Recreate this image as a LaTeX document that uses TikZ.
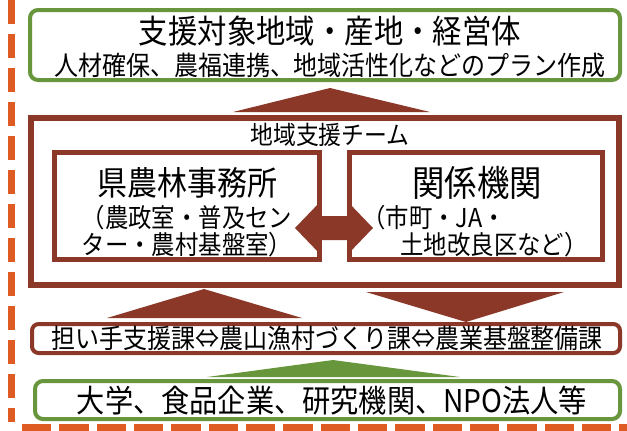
\documentclass[tikz,border=0pt]{standalone}
\usepackage{fontspec}
\newfontfamily\jpfont[FakeStretch=0.9]{Noto Sans CJK JP}
\usetikzlibrary{calc}
\definecolor{teamred}{RGB}{139,56,40}
\definecolor{areagreen}{RGB}{104,150,60}
\definecolor{lineorange}{RGB}{222,92,36}
\newcommand\px{0.75pt}
\pgfkeys{tikz/greenbox/.style={draw=areagreen,line width=3pt,rounded corners=6pt,fill=white}}
\pgfkeys{tikz/redbox/.style={draw=teamred,line width=4.5pt}}
\pgfkeys{tikz/innerbox/.style={draw=teamred,line width=3.5pt}}
\pgfkeys{tikz/sectionbox/.style={draw=teamred,line width=3pt,rounded corners=5pt}}
\pgfkeys{tikz/jptext/.style={font=\jpfont,inner sep=0pt,text=black}}
\pgfkeys{tikz/orangedash/.style={draw=lineorange,line width=5.25pt}}
\newcommand*\mybigtriangle[4][teamred]{
    \fill[#1] (#2) -- (#3) -- (#4) -- cycle;
}
\newcommand*\myfs[1]{\fontsize{#1}{#1}\selectfont}

\begin{document}
\begin{tikzpicture}[x=0.75pt,y=-0.75pt]
    \useasboundingbox (0,0) rectangle (627,430);
    \draw[orangedash,dash pattern=on 18pt off 7.5pt] (11.5,0) -- (11.5,422);
    \draw[orangedash,dash pattern=on 22pt off 6pt] (22,427) -- (627,427);

    \node[greenbox,minimum width=590*\px,minimum height=70*\px] (area) at (325,45) {};
    \node[jptext] (areaname) at (330,31) {\myfs{24.5pt}支援対象地域・産地・経営体};
    \node[jptext] (plan) at (330,65) {\myfs{20pt}人材確保、農福連携、地域活性化などのプラン作成};

    \mybigtriangle{233,112}{330,88}{430,112}

    \node[redbox,minimum width=588*\px,minimum height=167*\px] (team) at (325,201.5) {};
    \node[jptext] (teamname) at (330,135) {\myfs{19pt}地域支援チーム};

    \fill[teamred] (295,228) -- (320,202) -- (320,216) -- (348,216) -- (348,202)
        -- (373,228) -- (348,254) -- (348,240) -- (320,240) -- (320,254) -- cycle;

    \node[innerbox,minimum width=265*\px,minimum height=107*\px] (office) at (187,206) {};
    \node[jptext] (officename) at (187,183) {\myfs{25pt}県農林事務所};
    \node[jptext] (officesub1) at (187,218) {\myfs{19.5pt}（農政室・普及セン};
    \node[jptext] (officesub2) at (187,245) {\myfs{19.5pt}ター・農村基盤室）};

    \node[innerbox,minimum width=253*\px,minimum height=107*\px] (agency) at (476,206) {};
    \node[jptext] (agencyname) at (477,183) {\myfs{27pt}関係機関};
    \node[jptext,anchor=west] (agencysub1) at (362,218) {\myfs{19.5pt}（市町・JA・};
    \node[jptext] (agencysub2) at (494,245) {\myfs{19.5pt}土地改良区など）};

    \mybigtriangle{107,318}{204,289}{302,318}
    \mybigtriangle{366,292}{466,322}{564,292}

    \node[sectionbox,minimum width=588*\px,minimum height=29*\px] (sections) at (326,338.5) {};
    \node[jptext] (sectionnames) at (327,338) {\myfs{20pt}担い手支援課⇔農山漁村づくり課⇔農業基盤整備課};

    \mybigtriangle[areagreen]{207,377}{333,360}{460,377}

    \node[greenbox,minimum width=585*\px,minimum height=38*\px] (partners) at (327.5,400) {};
    \node[jptext] (partnernames) at (332,401) {\myfs{23.5pt}大学、食品企業、研究機関、NPO法人等};
\end{tikzpicture}
\end{document}
